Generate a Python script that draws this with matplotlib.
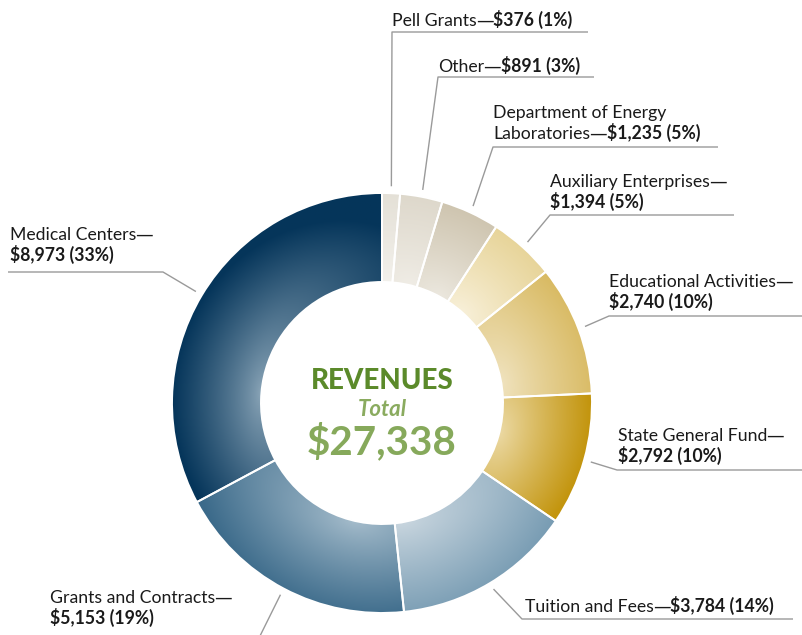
"""Donut chart of revenues with gradient wedges and leader-line labels."""

import matplotlib

matplotlib.use("Agg")
import matplotlib.pyplot as plt  # noqa: E402
import numpy as np  # noqa: E402
from matplotlib.colors import to_rgb  # noqa: E402

plt.rcParams["font.family"] = ["Lato", "DejaVu Sans"]

# data (clockwise from 12 o'clock)
categories = [
    "Pell Grants",
    "Other",
    "Department of Energy Laboratories",
    "Auxiliary Enterprises",
    "Educational Activities",
    "State General Fund",
    "Tuition and Fees",
    "Grants and Contracts",
    "Medical Centers",
]
amounts = [376, 891, 1235, 1394, 2740, 2792, 3784, 5153, 8973]
total_label = "$27,338"

# how each label is broken into lines; dash + value go at end of the marked line
label_lines = [
    ["Pell Grants"],
    ["Other"],
    ["Department of Energy", "Laboratories"],
    ["Auxiliary Enterprises", None],
    ["Educational Activities", None],
    ["State General Fund", None],
    ["Tuition and Fees"],
    ["Grants and Contracts", None],
    ["Medical Centers", None],
]

# gradient: (light, dark, focal fraction along wedge, radial spread, angular spread, gamma)
wedge_style = [
    ("#f3f1ec", "#e3dfd5", 0.5, 1.1, 1.5, 0.9),
    ("#f0ede6", "#dcd6c9", 0.3, 1.1, 1.5, 0.9),
    ("#ece8df", "#ccc2ac", 0.3, 1.1, 1.6, 0.9),
    ("#f8f0d9", "#e6d294", 0.55, 1.1, 1.6, 0.9),
    ("#f0e3bf", "#d8b960", 0.2, 1.1, 1.9, 0.9),
    ("#ecdaa6", "#c3950e", 0.55, 1.0, 1.7, 0.9),
    ("#c9d6df", "#789cb3", 0.08, 1.1, 2.5, 0.9),
    ("#a6bdcc", "#3b6a8a", 0.72, 1.1, 2.3, 0.85),
    ("#8ea8ba", "#05355a", 0.72, 1.0, 2.6, 0.75),
]

# label positions in pixels from top-left: text x, first baseline, elbow, underline end
label_pos = [
    (392, 26, (392, 32), 588),
    (438, 72, (438, 77), 594),
    (493, 118, (493, 147), 718),
    (550, 187, (550, 215), 734),
    (609, 287, (609, 316), 802),
    (618, 441, (617, 470), 802),
    (525, 612, (522, 619), 793),
    (50, 603, (257, 642), 50),
    (10, 240, (163, 272), 8),
]

W, H = 802, 635
CX, CY = 382, H - 403
R, RING = 210, 89
LINE_GAP = 21
FS = 12.7
GRAY = "#9a9a9a"
INK = "#1a1a1a"


def py(y):
    return H - y


fig = plt.figure(figsize=(W / 100, H / 100), dpi=100)
ax = fig.add_axes([0, 0, 1, 1])

wedges, _ = ax.pie(
    amounts,
    radius=R,
    center=(CX, CY),
    startangle=90,
    counterclock=False,
    frame=True,
    wedgeprops=dict(width=RING, edgecolor="white", linewidth=1.4),
)
ax.set_xlim(0, W)
ax.set_ylim(0, H)
ax.axis("off")

# gradient fills clipped to each wedge
n = 500
xs = np.linspace(CX - R, CX + R, n)
ys = np.linspace(CY - R, CY + R, n)
gx, gy = np.meshgrid(xs, ys)
rr = np.hypot(gx - CX, gy - CY)
th = np.arctan2(gy - CY, gx - CX)
rin = R - RING
for w, (light, dark, frac, sr, sa, gam) in zip(wedges, wedge_style):
    phi = np.deg2rad(w.theta1 + frac * (w.theta2 - w.theta1))
    dth = np.angle(np.exp(1j * (th - phi)))
    d_rad = np.clip(rr - rin, 0, None) / (RING * sr)
    d_arc = np.abs(dth) * rin / (RING * sa)
    t = np.clip(np.hypot(d_rad, d_arc), 0, 1) ** gam
    c0, c1 = np.array(to_rgb(light)), np.array(to_rgb(dark))
    img = c0 + (c1 - c0) * t[..., None]
    im = ax.imshow(img, extent=(CX - R, CX + R, CY - R, CY + R), origin="lower",
                   zorder=1, interpolation="bilinear")
    im.set_clip_path(w)
    w.set_facecolor("none")
    w.set_zorder(2)

ax.set_xlim(0, W)
ax.set_ylim(0, H)

# labels
renderer = fig.canvas.get_renderer()


def draw_segments(x, y, segments):
    for text, kw, dx in segments:
        t = ax.text(x + dx, y, text, fontsize=FS, color=INK, va="baseline", ha="left", **kw)
        x = t.get_window_extent(renderer).x1


total = sum(amounts)
for w, lines, amt, (tx, ty, elbow, end_x) in zip(wedges, label_lines, amounts, label_pos):
    value = f"${amt:,} ({round(amt / total * 100)}%)"
    last = len(lines) - 1
    for i, line in enumerate(lines):
        segs = []
        if line:
            segs.append((line, {}, 0))
        if (i == 0 and (last == 0 or lines[last] is None)) or (i == last and line):
            segs.append(("\u2014", {"family": "DejaVu Sans"}, -1))
        if i == last:
            segs.append((value, {"fontweight": "bold"}, 0))
        draw_segments(tx, py(ty + i * LINE_GAP), segs)
    mid = np.deg2rad((w.theta1 + w.theta2) / 2)
    ax0 = CX + R * 1.033 * np.cos(mid)
    ay0 = CY + R * 1.033 * np.sin(mid)
    ax.plot([ax0, elbow[0], end_x], [ay0, py(elbow[1]), py(elbow[1])],
            color=GRAY, lw=1, solid_capstyle="butt")

# centre text
ax.text(CX, py(381), "REVENUES", ha="center", va="center", fontsize=20,
        fontweight="black", color="#5b8a2a")
ax.text(CX, py(410), "Total", ha="center", va="center", fontsize=16,
        style="italic", fontweight="bold", color="#8aab5f")
ax.text(CX, py(442), total_label, ha="center", va="center", fontsize=29,
        fontweight="bold", color="#86a95b")

fig.savefig("out.png", dpi=100)
plt.close(fig)
